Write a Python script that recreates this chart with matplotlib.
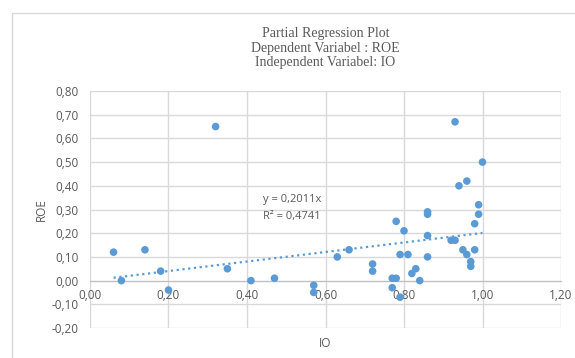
import matplotlib.pyplot as plt
from matplotlib.patches import Rectangle
from matplotlib.ticker import FuncFormatter, MultipleLocator

# IO (x) and ROE (y)
io = [0.06, 0.08, 0.14, 0.18, 0.20, 0.32, 0.35, 0.41, 0.47, 0.57, 0.57,
      0.63, 0.66, 0.72, 0.72, 0.77, 0.77, 0.78, 0.78, 0.79, 0.79, 0.80,
      0.81, 0.82, 0.83, 0.84, 0.86, 0.86, 0.86, 0.86, 0.92, 0.93, 0.93,
      0.94, 0.95, 0.96, 0.96, 0.97, 0.97, 0.98, 0.98, 0.99, 0.99, 1.00]
roe = [0.12, 0.00, 0.13, 0.04, -0.04, 0.65, 0.05, 0.00, 0.01, -0.02, -0.05,
       0.10, 0.13, 0.07, 0.04, 0.01, -0.03, 0.01, 0.25, 0.11, -0.07, 0.21,
       0.11, 0.03, 0.05, 0.00, 0.29, 0.28, 0.19, 0.10, 0.17, 0.17, 0.67,
       0.40, 0.13, 0.42, 0.11, 0.08, 0.06, 0.24, 0.13, 0.32, 0.28, 0.50]

slope = 0.2011
r2 = 0.4741
title_lines = ["Partial Regression Plot", "Dependent Variabel : ROE",
               "Independent Variabel: IO"]

blue = "#5b9bd5"
grey_txt = "#595959"
grid_c = "#d9d9d9"
sans = ["Open Sans", "DejaVu Sans"]

fig = plt.figure(figsize=(5.75, 3.58), dpi=100)
ax = fig.add_axes([0.1565, 0.0838, 0.8192, 0.662])

# chart border (Excel chart area)
fig.patches.append(Rectangle((12 / 575, -0.01), 1.0, 1 - 13 / 358 + 0.01,
                             transform=fig.transFigure, fill=False,
                             edgecolor="#d9d9d9", lw=1))

ax.scatter(io, roe, s=30, color=blue, zorder=3, edgecolors="none")

x0, x1 = min(io), max(io)
ax.plot([x0, x1], [slope * x0, slope * x1], color=blue, ls=(0, (1, 1.6)),
        lw=1.6, zorder=2)

ax.set_xlim(0, 1.2)
ax.set_ylim(-0.2, 0.8)
ax.xaxis.set_major_locator(MultipleLocator(0.2))
ax.yaxis.set_major_locator(MultipleLocator(0.1))
fmt = FuncFormatter(lambda v, _: f"{v:.2f}".replace(".", ",").replace("-0,00", "0,00"))
ax.xaxis.set_major_formatter(fmt)
ax.yaxis.set_major_formatter(fmt)

ax.grid(True, color=grid_c, lw=1)
ax.set_axisbelow(True)
for s in ["top", "right", "left"]:
    ax.spines[s].set_visible(False)
ax.spines["bottom"].set_position(("data", 0))
ax.spines["bottom"].set_color("#bfbfbf")
ax.tick_params(length=0, colors=grey_txt, labelsize=8.5)
ax.tick_params(axis="x", pad=6)
ax.tick_params(axis="y", pad=8)
for lab in ax.get_xticklabels() + ax.get_yticklabels():
    lab.set_family(sans)

ax.set_xlabel("IO", color=grey_txt, fontsize=8.5, family=sans, labelpad=0)
ax.xaxis.set_label_coords(0.5, -0.04)
ax.set_ylabel("ROE", color=grey_txt, fontsize=8.5, family=sans, labelpad=3)

ax.text(0.367, 0.53, f"y = {slope:.4f}x".replace(".", ","), transform=ax.transAxes,
        color=grey_txt, fontsize=8, family=sans)
ax.text(0.367, 0.462, f"R² = {r2:.4f}".replace(".", ","), transform=ax.transAxes,
        color=grey_txt, fontsize=8, family=sans)

fig.text(0.566, 0.865, "\n".join(title_lines), ha="center", va="center",
         family=["Liberation Serif", "DejaVu Serif"], fontsize=10,
         color=grey_txt, linespacing=1.15)

fig.savefig("out.png", dpi=100)
